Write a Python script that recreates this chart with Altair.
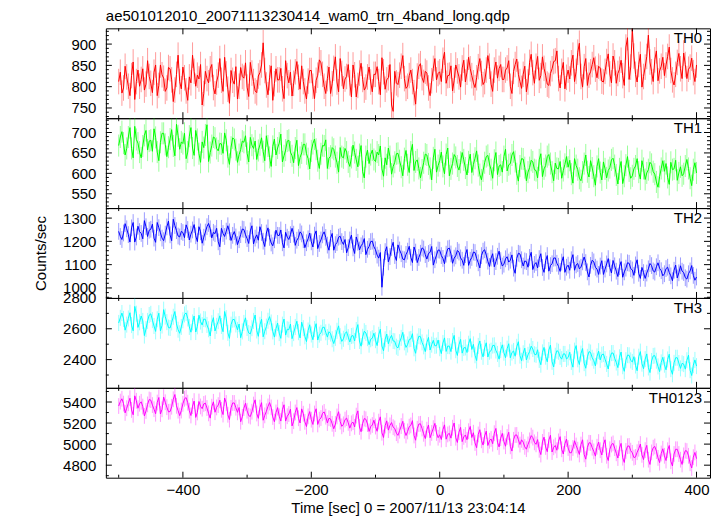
import altair as alt
import pandas as pd

# ---------------- data (read/estimated from the picture) ----------------
time = [-500 + 2.5 * i for i in range(361)]

th0 = [812, 834, 785, 797, 848, 823, 801, 779, 826, 858,
       770, 812, 839, 801, 817, 842, 792, 806, 861, 824,
       808, 786, 834, 851, 779, 803, 851, 828, 820, 789,
       797, 845, 842, 816, 765, 792, 829, 874, 812, 795,
       846, 821, 790, 768, 823, 809, 874, 836, 801, 827,
       818, 852, 757, 784, 836, 819, 809, 842, 852, 798,
       783, 811, 827, 866, 815, 789, 869, 830, 794, 761,
       838, 815, 806, 847, 771, 801, 845, 824, 820, 856,
       799, 777, 857, 832, 812, 790, 786, 825, 833, 851,
       903, 838, 804, 781, 821, 849, 768, 807, 842, 816,
       816, 843, 795, 772, 861, 826, 809, 834, 778, 808,
       835, 859, 822, 794, 849, 812, 790, 771, 813, 838,
       838, 801, 772, 815, 827, 863, 856, 829, 801, 784,
       819, 846, 784, 807, 843, 870, 811, 788, 866, 831,
       795, 818, 824, 852, 809, 776, 851, 828, 776, 803,
       832, 855, 817, 792, 799, 823, 846, 811, 788, 829,
       829, 847, 812, 781, 868, 835, 794, 816, 821, 852,
       757, 742, 836, 809, 805, 827, 848, 873, 819, 796,
       801, 826, 839, 812, 786, 759, 825, 848, 854, 821,
       810, 836, 832, 797, 779, 814, 843, 866, 816, 831,
       835, 812, 862, 881, 808, 826, 827, 849, 790, 815,
       851, 837, 823, 799, 844, 862, 811, 834, 869, 842,
       826, 809, 798, 821, 847, 866, 831, 805, 812, 839,
       873, 848, 806, 789, 839, 858, 820, 843, 852, 817,
       817, 839, 844, 861, 801, 784, 836, 852, 865, 829,
       812, 796, 829, 848, 788, 811, 857, 876, 833, 808,
       848, 871, 815, 826, 870, 843, 827, 806, 803, 831,
       842, 859, 861, 884, 819, 797, 836, 857, 795, 822,
       839, 818, 856, 874, 812, 836, 881, 902, 824, 799,
       847, 866, 803, 827, 835, 852, 868, 841, 821, 848,
       844, 813, 811, 836, 859, 877, 830, 809, 872, 856,
       808, 831, 841, 862, 826, 803, 893, 915, 817, 846,
       935, 872, 829, 811, 852, 876, 799, 824, 846, 871,
       921, 858, 835, 812, 863, 884, 814, 837, 848, 869,
       826, 851, 871, 893, 838, 816, 804, 829, 857, 878,
       842, 819, 879, 852, 819, 841, 846, 867, 833, 812,
       851]

th1 = [668, 689, 702, 674, 645, 661, 689, 712, 661, 638,
       715, 683, 674, 652, 638, 667, 693, 705, 657, 679,
       681, 654, 709, 688, 652, 631, 676, 698, 698, 671,
       641, 664, 684, 707, 667, 643, 720, 692, 659, 677,
       673, 698, 636, 652, 691, 712, 662, 644, 705, 683,
       648, 627, 677, 663, 694, 719, 629, 651, 668, 689,
       686, 661, 655, 673, 672, 649, 699, 681, 641, 622,
       664, 687, 683, 658, 627, 646, 658, 679, 676, 692,
       649, 628, 688, 669, 661, 679, 634, 656, 670, 687,
       653, 631, 692, 667, 639, 617, 666, 684, 645, 662,
       674, 696, 628, 643, 657, 679, 681, 652, 643, 626,
       662, 681, 619, 639, 650, 671, 671, 648, 636, 611,
       655, 673, 684, 659, 631, 612, 648, 668, 667, 682,
       612, 637, 642, 663, 659, 641, 626, 603, 663, 641,
       638, 661, 652, 628, 617, 639, 669, 651, 633, 616,
       646, 668, 604, 589, 641, 657, 624, 646, 657, 634,
       629, 652, 645, 667, 611, 593, 638, 621, 662, 641,
       598, 617, 627, 648, 649, 631, 615, 594, 636, 656,
       621, 602, 652, 671, 607, 628, 633, 612, 589, 608,
       626, 647, 645, 623, 612, 584, 638, 659, 603, 619,
       631, 652, 617, 599, 646, 662, 594, 611, 624, 646,
       639, 618, 608, 627, 651, 633, 613, 596, 628, 647,
       602, 622, 637, 655, 619, 597, 584, 606, 626, 641,
       644, 623, 609, 588, 632, 651, 597, 618, 621, 603,
       641, 659, 606, 621, 624, 645, 653, 629, 599, 581,
       618, 636, 635, 614, 582, 603, 614, 632, 628, 609,
       607, 589, 633, 648, 592, 611, 619, 641, 646, 624,
       603, 582, 625, 612, 611, 629, 588, 607, 622, 641,
       615, 632, 598, 576, 636, 619, 609, 588, 582, 603,
       624, 645, 604, 591, 631, 613, 593, 571, 617, 636,
       602, 584, 628, 611, 589, 607, 614, 633, 637, 619,
       596, 574, 611, 629, 575, 593, 620, 641, 606, 588,
       594, 611, 618, 636, 603, 586, 631, 612, 585, 601,
       609, 627, 622, 604, 598, 579, 566, 592, 612, 631,
       605, 624, 590, 573, 627, 609, 611, 632, 583, 601,
       616, 594, 599, 618, 634, 612, 588, 570, 609, 626,
       601]

th2 = [1243, 1221, 1208, 1236, 1276, 1254, 1229, 1197, 1258, 1281,
       1197, 1219, 1265, 1242, 1234, 1211, 1289, 1263, 1221, 1248,
       1252, 1274, 1214, 1196, 1281, 1259, 1237, 1214, 1203, 1231,
       1262, 1287, 1228, 1203, 1295, 1268, 1246, 1223, 1219, 1243,
       1238, 1216, 1271, 1251, 1206, 1231, 1249, 1272, 1224, 1199,
       1263, 1241, 1192, 1218, 1240, 1263, 1277, 1254, 1215, 1239,
       1233, 1256, 1198, 1177, 1256, 1234, 1221, 1244, 1267, 1241,
       1204, 1226, 1242, 1219, 1186, 1207, 1229, 1253, 1251, 1228,
       1212, 1191, 1245, 1267, 1189, 1214, 1228, 1205, 1263, 1238,
       1201, 1178, 1236, 1258, 1217, 1193, 1181, 1207, 1248, 1226,
       1225, 1249, 1194, 1172, 1239, 1218, 1208, 1229, 1256, 1231,
       1183, 1205, 1216, 1241, 1232, 1207, 1173, 1194, 1211, 1236,
       1198, 1176, 1227, 1245, 1169, 1191, 1206, 1228, 1241, 1217,
       1184, 1162, 1213, 1234, 1162, 1186, 1195, 1218, 1222, 1199,
       1187, 1208, 1151, 1173, 1206, 1227, 1172, 1148, 1219, 1196,
       1163, 1181, 1190, 1212, 1143, 1166, 1178, 1199, 1201, 1177,
       1164, 1141, 1128, 1152, 1003, 1089, 1156, 1177, 1112, 1135,
       1174, 1196, 1139, 1118, 1185, 1163, 1147, 1124, 1121, 1144,
       1158, 1179, 1132, 1109, 1176, 1154, 1109, 1131, 1149, 1172,
       1167, 1143, 1124, 1148, 1153, 1178, 1098, 1121, 1141, 1163,
       1162, 1139, 1127, 1104, 1145, 1168, 1171, 1146, 1106, 1128,
       1138, 1161, 1154, 1129, 1119, 1097, 1143, 1165, 1097, 1119,
       1131, 1154, 1152, 1127, 1108, 1086, 1139, 1158, 1164, 1141,
       1115, 1092, 1128, 1147, 1091, 1113, 1136, 1158, 1117, 1094,
       1102, 1125, 1134, 1111, 1119, 1142, 1085, 1063, 1127, 1149,
       1146, 1121, 1094, 1116, 1113, 1089, 1131, 1153, 1079, 1101,
       1109, 1086, 1126, 1147, 1088, 1067, 1117, 1139, 1072, 1096,
       1104, 1128, 1129, 1106, 1093, 1071, 1111, 1134, 1067, 1089,
       1098, 1076, 1121, 1143, 1076, 1099, 1105, 1082, 1089, 1112,
       1133, 1109, 1069, 1047, 1097, 1119, 1112, 1089, 1081, 1058,
       1094, 1117, 1058, 1081, 1103, 1126, 1087, 1064, 1118, 1095,
       1072, 1049, 1091, 1113, 1046, 1069, 1085, 1108, 1106, 1083,
       1077, 1054, 1099, 1121, 1063, 1041, 1088, 1066, 1041, 1064,
       1082, 1105, 1096, 1073, 1068, 1091, 1108, 1084, 1074, 1052,
       1061, 1083, 1089, 1066, 1052, 1031, 1076, 1098, 1043, 1065,
       1095, 1072, 1066, 1044, 1038, 1061, 1073, 1096, 1054, 1033,
       1047]

th3 = [2638, 2671, 2702, 2664, 2591, 2627, 2667, 2704, 2624, 2587,
       2745, 2698, 2609, 2642, 2683, 2651, 2556, 2598, 2651, 2689,
       2697, 2656, 2618, 2583, 2662, 2701, 2587, 2621, 2724, 2679,
       2643, 2608, 2605, 2641, 2678, 2712, 2632, 2594, 2571, 2612,
       2655, 2693, 2703, 2667, 2612, 2578, 2641, 2683, 2579, 2616,
       2688, 2647, 2624, 2663, 2661, 2625, 2597, 2553, 2636, 2672,
       2586, 2619, 2649, 2684, 2618, 2581, 2712, 2669, 2574, 2538,
       2627, 2659, 2661, 2628, 2593, 2631, 2542, 2583, 2638, 2671,
       2605, 2573, 2567, 2604, 2651, 2689, 2589, 2551, 2626, 2662,
       2548, 2584, 2614, 2652, 2679, 2641, 2583, 2546, 2601, 2637,
       2572, 2538, 2627, 2663, 2559, 2597, 2594, 2631, 2536, 2572,
       2612, 2649, 2578, 2541, 2643, 2604, 2551, 2517, 2589, 2626,
       2563, 2529, 2598, 2633, 2527, 2562, 2574, 2608, 2611, 2577,
       2546, 2581, 2569, 2532, 2504, 2541, 2587, 2619, 2552, 2518,
       2535, 2569, 2581, 2546, 2514, 2553, 2556, 2521, 2592, 2627,
       2521, 2487, 2548, 2584, 2573, 2539, 2497, 2532, 2539, 2571,
       2526, 2491, 2561, 2597, 2488, 2457, 2532, 2566, 2503, 2538,
       2557, 2521, 2519, 2484, 2476, 2513, 2541, 2577, 2512, 2479,
       2498, 2531, 2534, 2568, 2473, 2441, 2517, 2552, 2549, 2512,
       2486, 2452, 2511, 2544, 2462, 2497, 2525, 2489, 2491, 2527,
       2474, 2439, 2508, 2541, 2453, 2488, 2487, 2452, 2521, 2557,
       2461, 2427, 2496, 2531, 2442, 2476, 2479, 2446, 2503, 2536,
       2466, 2499, 2428, 2394, 2489, 2521, 2451, 2418, 2476, 2509,
       2417, 2451, 2458, 2491, 2493, 2459, 2437, 2403, 2462, 2496,
       2445, 2412, 2471, 2503, 2412, 2446, 2456, 2422, 2483, 2516,
       2426, 2393, 2441, 2474, 2398, 2431, 2452, 2487, 2469, 2435,
       2431, 2464, 2398, 2367, 2447, 2479, 2419, 2386, 2462, 2494,
       2386, 2352, 2425, 2458, 2451, 2418, 2403, 2437, 2437, 2404,
       2414, 2448, 2385, 2351, 2458, 2491, 2402, 2368, 2439, 2472,
       2377, 2344, 2418, 2452, 2446, 2412, 2393, 2359, 2421, 2455,
       2398, 2432, 2436, 2403, 2372, 2339, 2409, 2442, 2443, 2409,
       2381, 2348, 2415, 2449, 2357, 2324, 2396, 2429, 2428, 2395,
       2385, 2419, 2362, 2328, 2419, 2452, 2374, 2341, 2403, 2437,
       2349, 2316, 2391, 2424, 2426, 2393, 2356, 2322, 2382, 2415,
       2367, 2334, 2401, 2435, 2338, 2305, 2379, 2412, 2412, 2378,
       2343, 2376, 2371, 2338, 2396, 2429, 2331, 2297, 2364, 2398,
       2358]

th0123 = [5362, 5404, 5431, 5385, 5297, 5341, 5388, 5436, 5325, 5279,
          5459, 5412, 5341, 5384, 5402, 5357, 5268, 5315, 5377, 5424,
          5418, 5371, 5332, 5289, 5395, 5443, 5286, 5331, 5447, 5398,
          5351, 5307, 5309, 5355, 5426, 5471, 5364, 5318, 5271, 5319,
          5383, 5431, 5442, 5394, 5318, 5272, 5361, 5409, 5254, 5301,
          5405, 5358, 5337, 5382, 5389, 5343, 5292, 5247, 5356, 5402,
          5303, 5349, 5371, 5417, 5326, 5281, 5438, 5391, 5279, 5233,
          5345, 5391, 5391, 5346, 5302, 5348, 5213, 5259, 5342, 5388,
          5317, 5271, 5262, 5308, 5376, 5421, 5291, 5245, 5348, 5394,
          5227, 5273, 5312, 5358, 5395, 5349, 5258, 5213, 5301, 5347,
          5265, 5219, 5328, 5374, 5219, 5265, 5286, 5332, 5173, 5218,
          5301, 5347, 5246, 5201, 5335, 5289, 5212, 5167, 5264, 5309,
          5232, 5187, 5291, 5336, 5187, 5233, 5248, 5293, 5306, 5261,
          5201, 5246, 5239, 5193, 5146, 5191, 5263, 5308, 5214, 5169,
          5188, 5233, 5247, 5202, 5152, 5197, 5209, 5164, 5271, 5316,
          5163, 5118, 5198, 5243, 5236, 5191, 5121, 5166, 5182, 5227,
          5167, 5122, 5214, 5259, 5108, 5063, 5176, 5221, 5133, 5178,
          5205, 5161, 5149, 5104, 5083, 5128, 5172, 5217, 5127, 5082,
          5121, 5166, 5178, 5223, 5082, 5037, 5146, 5191, 5193, 5148,
          5098, 5053, 5137, 5182, 5061, 5106, 5152, 5197, 5106, 5061,
          5089, 5044, 5138, 5183, 5047, 5092, 5102, 5057, 5156, 5201,
          5061, 5016, 5114, 5159, 5024, 5069, 5087, 5042, 5123, 5168,
          5063, 5108, 5011, 4966, 5092, 5137, 5036, 4991, 5078, 5123,
          4987, 5032, 5049, 5004, 5104, 5149, 5018, 4973, 5057, 5102,
          5025, 4980, 5068, 5113, 4979, 4934, 5041, 5086, 5087, 5042,
          4996, 5041, 5019, 4974, 4952, 4997, 5036, 5081, 5062, 5017,
          4998, 5043, 4946, 4901, 5021, 5066, 4973, 4928, 5039, 5084,
          4925, 4970, 4987, 4942, 5026, 5071, 4951, 4906, 5003, 5048,
          4963, 4918, 4918, 4963, 5032, 4987, 4947, 4902, 4996, 5041,
          4902, 4857, 4968, 5013, 5011, 4966, 4931, 4886, 4975, 5020,
          4942, 4897, 4996, 5041, 4889, 4844, 4951, 4996, 5007, 4962,
          4913, 4868, 4962, 5007, 4871, 4826, 4935, 4980, 4983, 4938,
          4917, 4872, 4878, 4923, 4956, 5001, 4898, 4853, 4943, 4988,
          4852, 4807, 4921, 4966, 4978, 4933, 4869, 4824, 4911, 4956,
          4889, 4844, 4942, 4987, 4837, 4792, 4906, 4951, 4951, 4906,
          4852, 4807, 4893, 4938, 4934, 4889, 4818, 4773, 4876, 4921,
          4862]

series = [th0, th1, th2, th3, th0123]
names = ["TH0", "TH1", "TH2", "TH3", "TH0123"]
colors = ["#ff0000", "#00ff00", "#0000ff", "#00ffff", "#ff00ff"]
errs = [30, 27, 36, 52, 75]
ydomains = [[726, 937], [515, 735], [957, 1343], [2217, 2800], [4681, 5535]]
ymajor = [[750, 800, 850, 900], [550, 600, 650, 700], [1000, 1100, 1200, 1300],
          [2400, 2600, 2800], [4800, 5000, 5200, 5400]]
yminor_step = [10, 10, 20, 100, 100]
xmajor = [-400, -200, 0, 200, 400]
xminor = [-500, -300, -100, 100, 300]
xdomain = [-520, 421]

title_text = "ae501012010_20071113230414_wam0_trn_4band_long.qdp"
xtitle = "Time [sec] 0 = 2007/11/13 23:04:14"
ytitle = "Counts/sec"

W, H = 605, 90
FONT = "Liberation Sans"
MAJ, MIN = 6, 3


def panel(i):
    bottom = i == len(series) - 1
    df = pd.DataFrame({"t": time, "rate": series[i]})
    df["lo"] = df["rate"] - errs[i]
    df["hi"] = df["rate"] + errs[i]
    xs = alt.Scale(domain=xdomain, nice=False, zero=False)
    ys = alt.Scale(domain=ydomains[i], nice=False, zero=False)

    if bottom:
        xaxis = alt.Axis(values=xmajor, ticks=False, tickSize=0, domain=False, grid=False,
                         format="d", labelFontSize=15, labelPadding=5, title=xtitle,
                         titleFontSize=15, titleFontWeight="normal", titlePadding=3,
                         labelColor="black", titleColor="black", labelFlush=False)
    else:
        xaxis = None
    yaxis_kw = dict(values=ymajor[i], ticks=False, tickSize=0, domain=False, grid=False,
                    format="d", labelFontSize=15, labelPadding=10, labelColor="black",
                    labelFlush=False)
    if i == 2:
        yaxis = alt.Axis(title=ytitle, titleFontSize=15, titleFontWeight="normal",
                         titlePadding=14, titleColor="black", **yaxis_kw)
    else:
        yaxis = alt.Axis(title=None, **yaxis_kw)

    base = alt.Chart(df)
    line = base.mark_line(color=colors[i], strokeWidth=1, clip=True).encode(
        x=alt.X("t:Q", scale=xs, axis=xaxis),
        y=alt.Y("rate:Q", scale=ys, axis=yaxis),
    )
    err = base.mark_rule(color=colors[i], opacity=0.4, strokeWidth=1, clip=True).encode(
        x=alt.X("t:Q", scale=xs, axis=xaxis),
        y=alt.Y("lo:Q", scale=ys, axis=yaxis),
        y2="hi:Q",
    )

    lo, hi = ydomains[i]
    st = yminor_step[i]
    ymin_vals = [v for v in range((lo // st + 1) * st, hi, st) if v not in ymajor[i]]
    ymaj_df = pd.DataFrame({"v": ymajor[i]})
    ymin_df = pd.DataFrame({"v": ymin_vals})
    xmaj_df = pd.DataFrame({"v": xmajor})
    xmin_df = pd.DataFrame({"v": xminor})

    def ytick(d, x1, x2):
        return alt.Chart(d).mark_rule(color="black", strokeWidth=1).encode(
            y=alt.Y("v:Q", scale=ys, axis=yaxis), x=alt.value(x1), x2=alt.value(x2))

    def xtick(d, y1, y2):
        return alt.Chart(d).mark_rule(color="black", strokeWidth=1).encode(
            x=alt.X("v:Q", scale=xs, axis=xaxis), y=alt.value(y1), y2=alt.value(y2))

    ticks = [
        ytick(ymaj_df, 0, MAJ), ytick(ymin_df, 0, MIN),
        ytick(ymaj_df, W, W - MAJ), ytick(ymin_df, W, W - MIN),
        xtick(xmaj_df, 0, MAJ), xtick(xmin_df, 0, MIN),
        xtick(xmaj_df, H, H - MAJ), xtick(xmin_df, H, H - MIN),
    ]

    label = alt.Chart(pd.DataFrame({"name": [names[i]]})).mark_text(
        align="right", baseline="top", fontSize=15, font=FONT, color="black"
    ).encode(text="name:N", x=alt.value(W - 8), y=alt.value(3))

    ch = alt.layer(err, line, *ticks, label).properties(width=W, height=H)
    if i == 0:
        ch = ch.properties(title=alt.TitleParams(
            text=title_text, anchor="start", frame="group", fontSize=15,
            fontWeight="normal", font=FONT, color="black", offset=4))
    return ch


chart = alt.vconcat(*[panel(i) for i in range(len(series))], spacing=0,
                    bounds="flush").properties(
    padding={"left": 25, "top": 0, "right": 4, "bottom": 0}
).configure(font=FONT).configure_view(stroke="black", strokeWidth=1).configure_concat(spacing=0)

chart.save("out.html", embed_options={"renderer": "svg", "actions": False})
